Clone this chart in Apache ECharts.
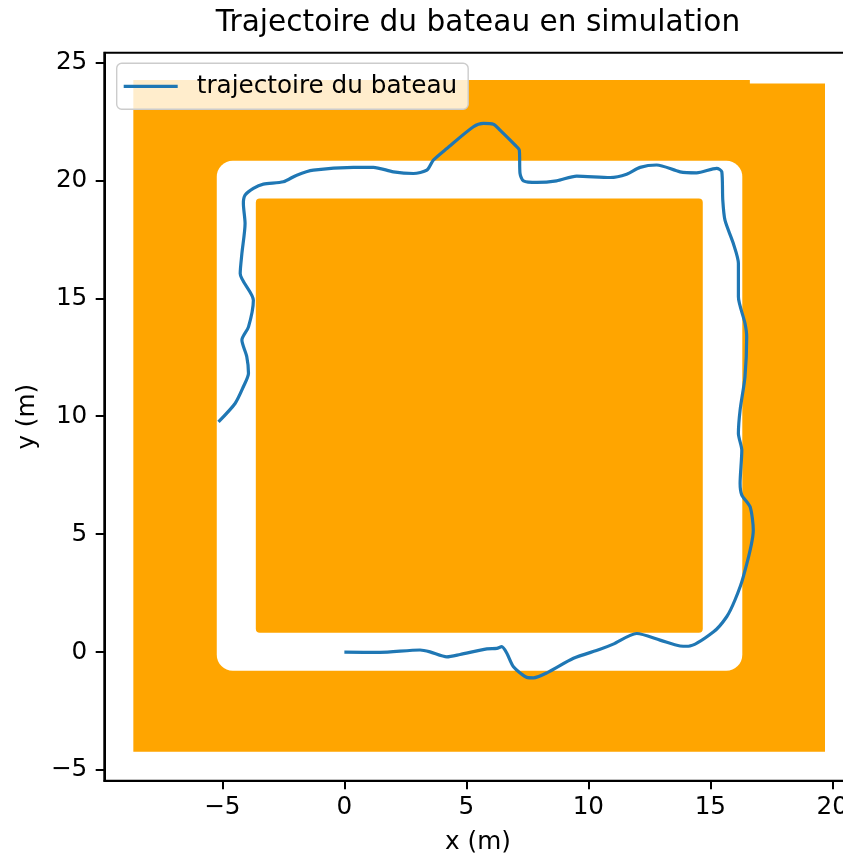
<!DOCTYPE html>
<html>
<head>
<meta charset="utf-8">
<script src="https://cdn.jsdelivr.net/npm/echarts@6/dist/echarts.min.js"></script>
<style>html,body{margin:0;padding:0;background:#fff}#c{width:843px;height:855px}</style>
</head>
<body>
<div id="c"></div>
<script>
// ---- data ----
const xTicks = [-5, 0, 5, 10, 15, 20];
const yTicks = [-5, 0, 5, 10, 15, 20, 25];
// obstacle zone (orange): outer polygon, free corridor (white), inner block (orange)
const outerObstacle = [[-8.65,-4.22],[19.7,-4.22],[19.7,24.1],[16.62,24.1],[16.62,24.25],[-8.65,24.25]];
const corridorBox = [-5.23, -0.79, 16.31, 20.83];
const innerObstacle = [-3.63, 0.82, 14.69, 19.23];
// boat trajectory
const trajX = [0,1.46,3.10,3.51,4.20,4.74,5.84,6.25,6.45,6.66,6.93,7.48,7.75,8.30,9.39,10.48,11.02,11.98,12.94,13.76,14.10,15.12,15.67,16.01,16.35,16.76,16.63,16.29,16.22,16.29,16.15,16.22,16.42,16.49,16.42,16.15,16.15,15.94,15.60,15.51,15.47,15.26,14.44,13.76,12.80,12.12,11.57,10.89,9.52,8.70,7.89,7.34,7.20,7.17,7.00,6.38,6.11,5.70,5.29,4.20,3.65,3.38,2.83,2.01,1.19,0.37,-1.27,-1.95,-2.50,-3.32,-3.73,-4.07,-4.14,-4.07,-4.20,-4.27,-3.73,-3.93,-4.20,-4.00,-3.93,-4.14,-4.48,-5.16];
const trajY = [0,-0.01,0.09,0.01,-0.20,-0.10,0.14,0.16,0.23,-0.05,-0.62,-1.07,-1.09,-0.88,-0.26,0.12,0.34,0.79,0.51,0.26,0.25,0.85,1.50,2.21,3.19,5.17,6.16,6.66,7.15,8.56,9.27,10.26,11.67,13.37,13.94,15.06,16.48,17.33,18.31,19.16,20.36,20.51,20.32,20.36,20.65,20.55,20.26,20.12,20.18,19.98,19.91,19.98,20.29,21.28,21.49,22.13,22.38,22.41,22.27,21.35,20.86,20.43,20.29,20.36,20.55,20.55,20.43,20.22,19.94,19.84,19.66,19.37,19.02,18.17,16.90,16.05,14.92,13.79,13.23,12.52,11.82,11.25,10.54,9.76];

const traj = trajX.map((x, i) => [x, trajY[i]]);
const FONT = 'DejaVu Sans';
const fmt = v => (v < 0 ? '\u2212' + Math.abs(v) : String(v));

const chart = echarts.init(document.getElementById('c'), null, {renderer: 'canvas'});
chart.setOption({
  animation: false,
  backgroundColor: '#ffffff',
  title: {
    text: 'Trajectoire du bateau en simulation',
    left: 478, top: 8, textAlign: 'center', padding: 0,
    textStyle: {fontFamily: FONT, fontSize: 29.6, fontWeight: 'normal', color: '#000'}
  },
  legend: {
    data: [{name: 'trajectoire du bateau', icon: 'rect'}],
    left: 116.7, top: 63.3,
    padding: [8, 11, 8, 7],
    itemWidth: 54, itemHeight: 3.2,
    backgroundColor: 'rgba(255,255,255,0.8)',
    borderColor: '#cccccc', borderWidth: 1.4, borderRadius: 5,
    textStyle: {fontFamily: FONT, fontSize: 24.7, color: '#000', padding: [0, 0, 0, 14], lineHeight: 30}
  },
  grid: {
    left: 104.3, top: 52.7, width: 747.3, height: 728,
    outerBoundsMode: 'none', containLabel: false,
    show: true, borderColor: '#000', borderWidth: 2, backgroundColor: 'transparent'
  },
  xAxis: {
    type: 'value', min: -9.84, max: 20.79,
    name: 'x (m)', nameLocation: 'middle', nameGap: 49,
    nameTextStyle: {fontFamily: FONT, fontSize: 24.7, color: '#000'},
    axisLine: {show: true, onZero: false, lineStyle: {color: '#000', width: 2}},
    axisTick: {show: true, length: 8.6, customValues: xTicks, lineStyle: {color: '#000', width: 2}},
    axisLabel: {customValues: xTicks, formatter: fmt, margin: 14, hideOverlap: false, fontFamily: FONT, fontSize: 24.7, color: '#000'},
    splitLine: {show: false}
  },
  yAxis: {
    type: 'value', min: -5.45, max: 25.41,
    name: 'y (m)', nameLocation: 'middle', nameGap: 64,
    nameTextStyle: {fontFamily: FONT, fontSize: 24.7, color: '#000'},
    axisLine: {show: true, onZero: false, lineStyle: {color: '#000', width: 2}},
    axisTick: {show: true, length: 8.6, customValues: yTicks, lineStyle: {color: '#000', width: 2}},
    axisLabel: {customValues: yTicks, formatter: fmt, margin: 17, fontFamily: FONT, fontSize: 24.7, color: '#000'},
    splitLine: {show: false}
  },
  series: [
    {
      type: 'custom',
      data: [[0, 0]],
      silent: true,
      clip: true,
      renderItem: function (params, api) {
        const poly = outerObstacle.map(p => api.coord(p));
        const c1 = api.coord([corridorBox[0], corridorBox[3]]);
        const c2 = api.coord([corridorBox[2], corridorBox[1]]);
        const i1 = api.coord([innerObstacle[0], innerObstacle[3]]);
        const i2 = api.coord([innerObstacle[2], innerObstacle[1]]);
        return {
          type: 'group',
          children: [
            {type: 'polygon', shape: {points: poly}, style: {fill: '#FFA500'}},
            {type: 'rect', shape: {x: c1[0], y: c1[1], width: c2[0] - c1[0], height: c2[1] - c1[1], r: 16}, style: {fill: '#ffffff'}},
            {type: 'rect', shape: {x: i1[0], y: i1[1], width: i2[0] - i1[0], height: i2[1] - i1[1], r: 4}, style: {fill: '#FFA500'}}
          ]
        };
      }
    },
    {
      name: 'trajectoire du bateau',
      type: 'line',
      data: traj,
      symbol: 'none',
      showSymbol: false,
      smooth: 0.25,
      lineStyle: {color: '#1f77b4', width: 3.2},
      itemStyle: {color: '#1f77b4'},
      z: 5
    }
  ]
});
</script>
</body>
</html>
